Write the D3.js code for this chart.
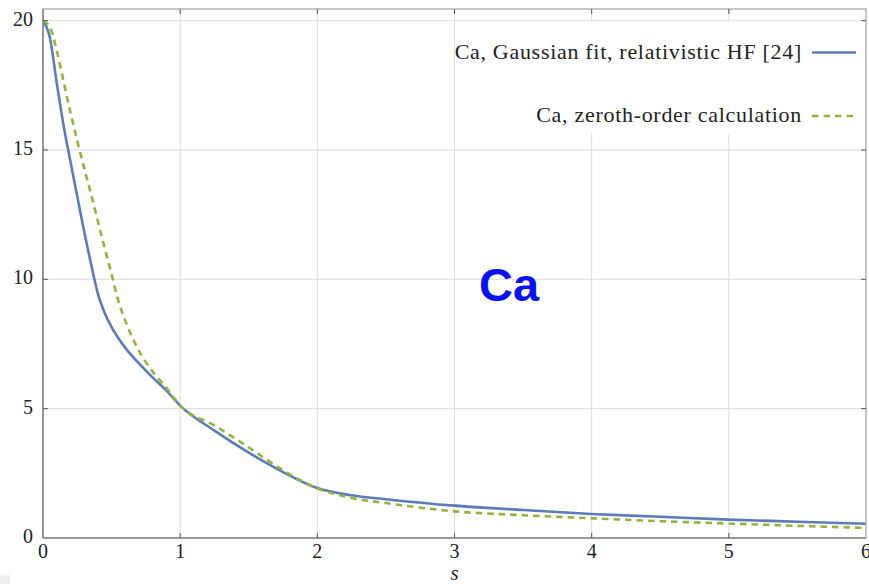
<!DOCTYPE html>
<html>
<head>
<meta charset="utf-8">
<script src="https://cdn.jsdelivr.net/npm/d3@7"></script>
<style>
  body { margin: 0; background: #fff; }
  svg { display: block; }
</style>
</head>
<body>
<svg id="chart" width="869" height="584"></svg>
<script>
const sValues      = [0, 0.05, 0.1, 0.15, 0.2, 0.25, 0.3, 0.35, 0.4, 0.45, 0.5, 0.55, 0.6, 0.7, 0.8, 0.9, 1.0, 1.25, 1.5, 1.75, 2.0, 2.25, 2.5, 3.0, 3.5, 4.0, 4.5, 5.0, 5.5, 6.0];
const hfValues     = [20, 19.35, 17.6, 15.95, 14.55, 13.2, 11.85, 10.6, 9.45, 8.7, 8.15, 7.72, 7.35, 6.75, 6.2, 5.7, 5.12, 4.15, 3.3, 2.55, 1.93, 1.65, 1.5, 1.25, 1.08, 0.93, 0.82, 0.71, 0.63, 0.55];
const zerothValues = [20, 19.75, 18.85, 17.65, 16.45, 15.35, 14.3, 13.3, 12.25, 11.2, 10.2, 9.15, 8.4, 7.23, 6.43, 5.8, 5.12, 4.35, 3.5, 2.62, 1.92, 1.55, 1.35, 1.03, 0.88, 0.76, 0.65, 0.56, 0.47, 0.39];

const xTicks = [0, 1, 2, 3, 4, 5, 6];
const yTicks = [0, 5, 10, 15, 20];
const legendLabels = ["Ca, Gaussian fit, relativistic HF [24]", "Ca, zeroth-order calculation"];
const xLabel = "s";
const centerLabel = "Ca";

const svg = d3.select("#chart");

margin = { top: 9, right: 3, bottom: 46, left: 43 }
width = +svg.attr("width") - margin.left - margin.right
height = +svg.attr("height") - margin.top - margin.bottom

// small grey patch at the bottom left corner of the screenshot
svg.append("rect").attr("x", 0).attr("y", 575).attr("width", 10).attr("height", 9).attr("fill", "#eeeeee");

const g = svg.append("g").attr("transform", "translate(" + margin.left + "," + margin.top + ")");

const xScale = d3.scaleLinear().domain([0, 6]).range([0, width]);
const yScale = d3.scaleLinear().domain([0, 20.45]).range([height, 0]);

// grid
g.append("g").selectAll("line").data(xTicks.slice(1, -1)).join("line")
  .attr("x1", d => xScale(d)).attr("x2", d => xScale(d))
  .attr("y1", 0).attr("y2", height)
  .attr("stroke", "#dcdcdc").attr("stroke-width", 1);
g.append("g").selectAll("line").data(yTicks.slice(1)).join("line")
  .attr("x1", 0).attr("x2", width)
  .attr("y1", d => yScale(d)).attr("y2", d => yScale(d))
  .attr("stroke", "#dcdcdc").attr("stroke-width", 1);

// curves
const line = (vals) => d3.line()
  .curve(d3.curveMonotoneX)
  .x((d, i) => xScale(sValues[i]))
  .y(d => yScale(d))(vals);

g.append("path")
  .attr("d", line(hfValues))
  .attr("fill", "none")
  .attr("stroke", "#5b7bb9")
  .attr("stroke-width", 2.6);

g.append("path")
  .attr("d", line(zerothValues))
  .attr("fill", "none")
  .attr("stroke", "#93b43a")
  .attr("stroke-width", 2.6)
  .attr("stroke-dasharray", "6.5,5");

// legend (white box without border)
const legend = g.append("g");
legend.append("rect")
  .attr("x", 412).attr("y", 12).attr("width", width - 416).attr("height", 112)
  .attr("fill", "#fff");

legendLabels.forEach((label, i) => {
  const ly = 43.5 + i * 63.5;
  legend.append("text")
    .attr("x", 759).attr("y", ly + 6)
    .attr("text-anchor", "end")
    .attr("font-family", "'Liberation Serif', 'Times New Roman', serif")
    .attr("font-size", 22)
    .attr("letter-spacing", 0.7)
    .attr("fill", "#222")
    .text(label);
  legend.append("line")
    .attr("x1", 769).attr("x2", 813)
    .attr("y1", ly).attr("y2", ly)
    .attr("stroke", i === 0 ? "#5b7bb9" : "#93b43a")
    .attr("stroke-width", 2.6)
    .attr("stroke-dasharray", i === 0 ? null : "6.5,5");
});

// frame
g.append("rect")
  .attr("x", 0).attr("y", 0).attr("width", width).attr("height", height)
  .attr("fill", "none").attr("stroke", "#a0a0a0").attr("stroke-width", 1.2);
g.append("line").attr("x1", 0).attr("x2", width).attr("y1", height).attr("y2", height)
  .attr("stroke", "#888").attr("stroke-width", 1.6);
g.append("line").attr("x1", 0).attr("x2", 0).attr("y1", 0).attr("y2", height)
  .attr("stroke", "#888").attr("stroke-width", 1.6);

// inward ticks, labels drawn separately
const tickStroke = "#555";
g.append("g").selectAll("line").data(xTicks.slice(1, -1)).join("line")
  .attr("x1", d => xScale(d)).attr("x2", d => xScale(d))
  .attr("y1", height).attr("y2", height - 5)
  .attr("stroke", tickStroke);
g.append("g").selectAll("line").data(xTicks.slice(1, -1)).join("line")
  .attr("x1", d => xScale(d)).attr("x2", d => xScale(d))
  .attr("y1", 0).attr("y2", 5)
  .attr("stroke", tickStroke);
g.append("g").selectAll("line").data(yTicks.slice(1)).join("line")
  .attr("x1", 0).attr("x2", 5)
  .attr("y1", d => yScale(d)).attr("y2", d => yScale(d))
  .attr("stroke", tickStroke);
g.append("g").selectAll("line").data(yTicks.slice(1)).join("line")
  .attr("x1", width).attr("x2", width - 5)
  .attr("y1", d => yScale(d)).attr("y2", d => yScale(d))
  .attr("stroke", tickStroke);

const tickFont = "'Liberation Serif', 'Times New Roman', serif";
g.append("g").selectAll("text").data(xTicks).join("text")
  .attr("x", d => xScale(d))
  .attr("y", height + 20)
  .attr("text-anchor", "middle")
  .attr("font-family", tickFont).attr("font-size", 20).attr("fill", "#222")
  .text(d => d);
g.append("g").selectAll("text").data(yTicks).join("text")
  .attr("x", -10)
  .attr("y", d => yScale(d) + 5)
  .attr("text-anchor", "end")
  .attr("font-family", tickFont).attr("font-size", 20).attr("fill", "#222")
  .text(d => d);

g.append("text")
  .attr("x", xScale(3)).attr("y", height + 42)
  .attr("text-anchor", "middle")
  .attr("font-family", tickFont).attr("font-style", "italic").attr("font-size", 21).attr("fill", "#222")
  .text(xLabel);

svg.append("text")
  .attr("x", 479).attr("y", 301)
  .attr("font-family", "'Liberation Sans', Arial, sans-serif")
  .attr("font-weight", "bold").attr("font-size", 47)
  .attr("fill", "#0a12f5")
  .text(centerLabel);
</script>
</body>
</html>
